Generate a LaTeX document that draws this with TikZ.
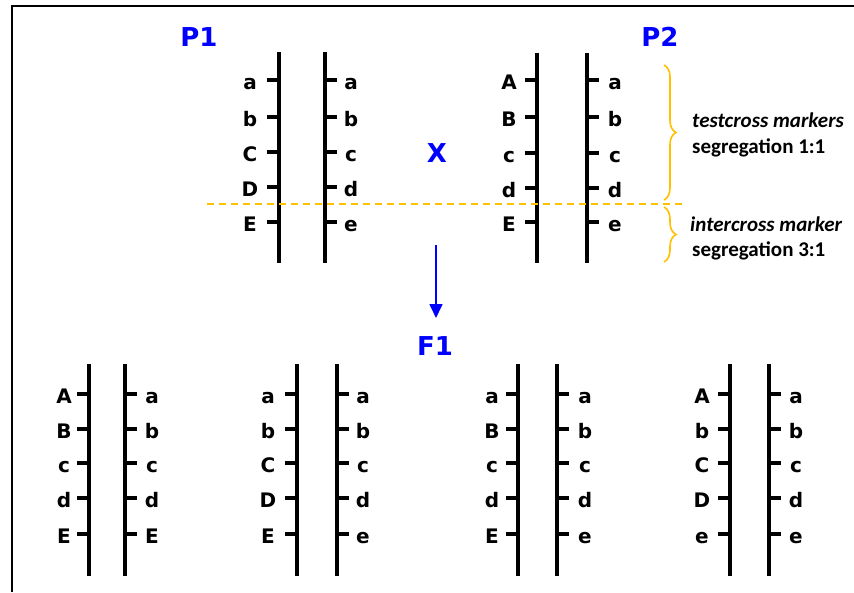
\documentclass[tikz,border=0pt]{standalone}
\usepackage{fontspec}
\setmainfont{Carlito}
\newfontfamily\labfont{DejaVu Sans}
\usetikzlibrary{arrows.meta,decorations.pathreplacing}
\definecolor{gold}{HTML}{FFC000}
\definecolor{pblue}{HTML}{0000FF}
\newcommand\chrpair[8]{%
  \draw[chrom] (#2,#4) -- (#2,#5);
  \draw[chrom] (#3,#4) -- (#3,#5);
  \foreach \yy/\ll/\rr [count=\i] in {#8} {
    \draw[tickmark] (#2-12,\yy) -- (#2,\yy);
    \draw[tickmark] (#3,\yy) -- (#3+12,\yy);
    \node[lbl] (#1L\i) at (#6,\yy+9) {\ll};
    \node[lbl] (#1R\i) at (#7,\yy+9) {\rr};
  }}
\begin{document}
\begin{tikzpicture}[x=1pt,y=-1pt,
  chrom/.style={line width=3.8pt},
  tickmark/.style={line width=3.2pt},
  lbl/.style={font=\labfont\bfseries\fontsize{20}{20}\selectfont, anchor=base, inner sep=0pt},
  title/.style={font=\labfont\bfseries\fontsize{26}{26}\selectfont, text=pblue, inner sep=0pt},
  note/.style={font=\bfseries\fontsize{21}{21}\selectfont, anchor=base west, inner sep=0pt},
  noteit/.style={font=\bfseries\itshape\fontsize{21}{21}\selectfont, anchor=base west, inner sep=0pt},
  goldline/.style={draw=gold, line width=1.6pt},
  ]
\useasboundingbox (0,0) rectangle (854,592);
% frame
\coordinate (fr1) at (854,6);
\coordinate (fr2) at (12,6);
\coordinate (fr3) at (12,592);
\draw[line width=1.6pt] (fr1) -- (fr2) -- (fr3);
% parents
\chrpair{pa}{279}{325}{52}{263}{250}{351}{80/a/a,117/b/b,152/C/c,187/D/d,222/E/e}
\chrpair{pb}{537}{587}{53}{263}{509}{615}{80/A/a,117/B/b,153/c/c,188/d/d,222/E/e}
% F1
\chrpair{fa}{89}{125}{364}{576}{64}{152}{394/A/a,429/B/b,463/c/c,498/d/d,534/E/E}
\chrpair{fb}{297}{337}{364}{576}{268}{363}{394/a/a,429/b/b,463/C/c,498/D/d,534/E/e}
\chrpair{fc}{518}{557}{364}{576}{492}{585}{394/a/a,429/B/b,463/c/c,498/d/d,534/E/e}
\chrpair{fd}{730}{769}{364}{576}{702}{796}{394/A/a,429/b/b,463/C/c,498/D/d,534/e/e}
% titles
\node[title] (P1) at (199,37) {P1};
\node[title] (P2) at (660,37) {P2};
\node[title] (X) at (437,153) {X};
\node[title] (F1) at (435,346) {F1};
\coordinate (arS) at (436,245);
\coordinate (arE) at (436,318);
\draw[pblue, line width=1.6pt, -{Triangle[length=14pt,width=13pt]}] (arS) -- (arE);
% dashed divider
\coordinate (dL) at (207,204);
\coordinate (dR) at (682,204);
\draw[goldline, dash pattern=on 7pt off 5pt] (dL) -- (dR);
% braces
\coordinate (b1t) at (664,65);
\coordinate (b1b) at (664,200);
\coordinate (b2t) at (664,207);
\coordinate (b2b) at (664,262);
\draw[goldline, decorate, decoration={brace, amplitude=12pt}] (b1t) -- (b1b);
\draw[goldline, decorate, decoration={brace, amplitude=12pt}] (b2t) -- (b2b);
% notes
\node[noteit] (n1) at (692,127) {testcross markers};
\node[note] (n2) at (692,153) {segregation 1:1};
\node[noteit] (n3) at (690,231) {intercross marker};
\node[note] (n4) at (692,256) {segregation 3:1};
\end{tikzpicture}
\end{document}
